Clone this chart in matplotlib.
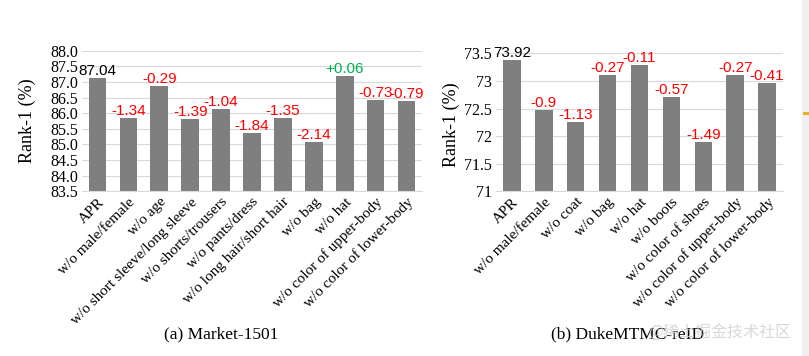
import matplotlib
matplotlib.use('Agg')
import matplotlib.pyplot as plt
from matplotlib.patches import Rectangle

plt.rcParams.update({
    'font.family': ['Liberation Serif', 'DejaVu Serif'],
    'font.size': 10,
    'axes.unicode_minus': False,
})

BAR = '#7f7f7f'
RED = '#ff0000'
GREEN = '#00b050'
GRID = '#d9d9d9'

# ---- (a) Market-1501 ----
market_cats = ['APR', 'w/o male/female', 'w/o age', 'w/o short sleeve/long sleeve',
               'w/o shorts/trousers', 'w/o pants/dress', 'w/o long hair/short hair',
               'w/o bag', 'w/o hat', 'w/o color of upper-body', 'w/o color of lower-body']
market_vals = [87.14, 85.85, 86.86, 85.80, 86.13, 85.37, 85.85, 85.08, 87.20, 86.43, 86.39]
market_labels = ['87.04', '-1.34', '-0.29', '-1.39', '-1.04', '-1.84', '-1.35',
                 '-2.14', '+0.06', '-0.73', '-0.79']
market_ticks = [83.5, 84.0, 84.5, 85.0, 85.5, 86.0, 86.5, 87.0, 87.5, 88.0]

# ---- (b) DukeMTMC-reID ----
duke_cats = ['APR', 'w/o male/female', 'w/o coat', 'w/o bag', 'w/o hat', 'w/o boots',
             'w/o color of shoes', 'w/o color of upper-body', 'w/o color of lower-body']
duke_vals = [73.38, 72.47, 72.25, 73.11, 73.29, 72.71, 71.89, 73.11, 72.97]
duke_labels = ['73.92', '-0.9', '-1.13', '-0.27', '-0.11', '-0.57', '-1.49', '-0.27', '-0.41']
duke_ticks = [71, 71.5, 72, 72.5, 73, 73.5]


def label_color(s):
    if s.startswith('-'):
        return RED
    if s.startswith('+'):
        return GREEN
    return 'black'


def draw(ax, cats, vals, labels, ticks, fmt, width):
    x = range(len(cats))
    ax.bar(x, vals, width, color=BAR, zorder=2)
    ax.set_ylim(ticks[0], ticks[-1])
    ax.set_xlim(-0.5, len(cats) - 0.5)
    ax.set_yticks(ticks)
    ax.set_yticklabels([fmt(t) for t in ticks], fontsize=11.5)
    ax.set_xticks(list(x))
    ax.set_xticklabels(cats, rotation=45, ha='right', rotation_mode='anchor', fontsize=11)
    ax.tick_params(length=0, pad=3)
    ax.grid(axis='y', color=GRID, lw=0.8, zorder=0)
    for sp in ['top', 'right', 'left']:
        ax.spines[sp].set_visible(False)
    ax.spines['bottom'].set_color(GRID)
    for xi, v, s in zip(x, vals, labels):
        ax.text(xi, v, s, ha='center', va='bottom', fontsize=11,
                color=label_color(s), family=['Liberation Sans', 'DejaVu Sans'])
    ax.set_ylabel('Rank-1 (%)', fontsize=13)


fig = plt.figure(figsize=(8.09, 3.56), dpi=100)
ax1 = fig.add_axes([0.1014, 0.4626, 0.4202, 0.395])
ax2 = fig.add_axes([0.613, 0.4626, 0.355, 0.3876])

draw(ax1, market_cats, market_vals, market_labels, market_ticks,
     lambda t: f'{t:.1f}', 0.57)
ax1.yaxis.set_label_coords(-0.135, 0.5)
draw(ax2, duke_cats, duke_vals, duke_labels, duke_ticks,
     lambda t: f'{t:g}', 0.55)
ax2.yaxis.set_label_coords(-0.125, 0.48)

fig.text(0.273, 0.06, '(a) Market-1501', ha='center', va='center', fontsize=12.5)
fig.text(0.776, 0.06, '(b) DukeMTMC-reID', ha='center', va='center', fontsize=12.5)
# watermark in the source image, faint and partly under the caption
fig.text(0.89, 0.065, '@稀土掘金技术社区', ha='center', va='center', fontsize=11.5,
         color='#cfcfcf', alpha=0.8, family=['Noto Sans CJK SC', 'DejaVu Sans'])

# right edge strip and small mark
fig.patches.append(Rectangle((0.9913, 0), 0.0087, 1, transform=fig.transFigure,
                             facecolor='#f0f0f0', edgecolor='none', zorder=-1))
fig.patches.append(Rectangle((0.992, 0.678), 0.008, 0.006, transform=fig.transFigure,
                             facecolor='#f0a830', edgecolor='none'))

fig.savefig('out.png', dpi=100, facecolor='white')
